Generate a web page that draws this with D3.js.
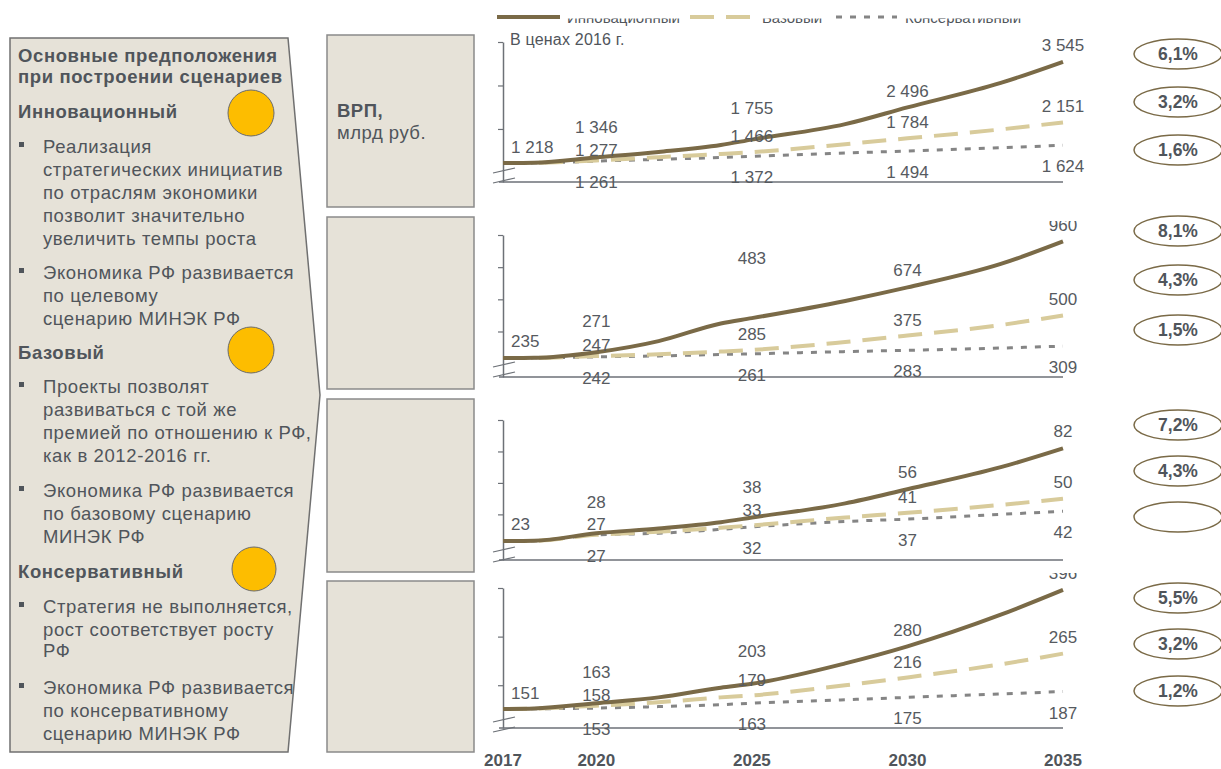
<!DOCTYPE html>
<html>
<head>
<meta charset="utf-8">
<script src="https://cdn.jsdelivr.net/npm/d3@7"></script>
<style>
  body { margin: 0; background: #fff; }
  svg { display: block; font-family: "Liberation Sans", Arial, sans-serif; }
</style>
</head>
<body>
<svg id="chart" width="1221" height="769"></svg>
<script>
// ---- data ----
const lineYears = [2017, 2018, 2020, 2022, 2024, 2025, 2028, 2030, 2033, 2035];
const labelYears = [2017, 2020, 2025, 2030, 2035];
const seriesNames = ["Инновационный", "Базовый", "Консервативный"];

// GRP, bn rub (2016 prices)
const p1Innov = [1218, 1225, 1346, 1470, 1630, 1755, 2110, 2496, 3060, 3545];
const p1Base  = [1218, 1220, 1277, 1350, 1425, 1466, 1650, 1784, 1990, 2151];
const p1Cons  = [1218, 1220, 1261, 1300, 1345, 1372, 1445, 1494, 1570, 1624];
const p1Growth = ["6,1%", "3,2%", "1,6%"];
const p1Ticks = [2000, 3000, 4000];

const p2Innov = [235, 236, 271, 340, 450, 483, 590, 674, 820, 960];
const p2Base  = [235, 236, 247, 258, 275, 285, 335, 375, 440, 500];
const p2Cons  = [235, 236, 242, 248, 257, 261, 275, 283, 297, 309];
const p2Growth = ["8,1%", "4,3%", "1,5%"];
const p2Ticks = [400, 600, 800, 1000];

const p3Innov = [23, 23.2, 28, 31, 35, 38, 47, 56, 70, 82];
const p3Base  = [23, 23.2, 27, 29, 31.5, 33, 38, 41, 46, 50];
const p3Cons  = [23, 23.2, 27, 28, 30.5, 32, 35.5, 37, 40, 42];
const p3Growth = ["7,2%", "4,3%", ""];
const p3Ticks = [40, 60, 80, 100];

const p4Innov = [151, 152, 163, 175, 195, 203, 245, 280, 345, 396];
const p4Base  = [151, 152, 158, 165, 175, 179, 200, 216, 243, 265];
const p4Cons  = [151, 151.5, 153, 156, 160, 163, 170, 175, 182, 187];
const p4Growth = ["5,5%", "3,2%", "1,2%"];
const p4Ticks = [200, 300, 400];

// ---- layout ----
const textColor = "#50555b";
const colors = ["#7a6a47", "#d8cb9b", "#858585"];
const dashes = [null, "24,12", "6,8"];
const widths = [4, 4, 3];

const panels = [
  {series: [p1Innov, p1Base, p1Cons], growth: p1Growth, ticks: p1Ticks,
   domain: [780, 4000], range: [182, 42], box: [35, 207], clipTop: 0, breakDy: -8,
   ell: [54, 102, 150], innDy: [-16, -31, -32, -17, -17]},
  {series: [p2Innov, p2Base, p2Cons], growth: p2Growth, ticks: p2Ticks,
   domain: [117, 1000], range: [377, 235], box: [217, 389], clipTop: 221, breakDy: -9,
   ell: [231, 280, 330], innDy: [-17, -31, -60, -18, -17]},
  {series: [p3Innov, p3Base, p3Cons], growth: p3Growth, ticks: p3Ticks,
   domain: [11, 100], range: [560, 420], box: [399, 572], clipTop: 392, breakDy: -7,
   ell: [425, 471, 517], innDy: [-17, -31, -31, -17, -17]},
  {series: [p4Innov, p4Base, p4Cons], growth: p4Growth, ticks: p4Ticks,
   domain: [112, 400], range: [728, 588], box: [581, 752], clipTop: 573, breakDy: -5,
   ell: [598, 644, 691], innDy: [-16, -31, -33, -16, -17]}
];
const baseDy = [-11, -16, -16, -17];
const consDy = 21;

const svg = d3.select("#chart");
const fmt = d3.formatLocale({decimal: ",", thousands: " ", grouping: [3], currency: ["", ""]}).format(",d");

const x = d3.scaleLinear().domain([2017, 2035]).range([503, 1063]);

// ---- left assumptions panel ----
svg.append("polygon")
  .attr("points", [[10, 38], [288, 38], [320, 395], [288, 752], [10, 752]].join(" "))
  .attr("fill", "#e6e2d8").attr("stroke", "#707070").attr("stroke-width", 1.5);

const leftText = [
  {t: "Основные предположения", y: 62, b: true},
  {t: "при построении сценариев", y: 83, b: true},
  {t: "Инновационный", y: 118, b: true},
  {t: "Реализация", y: 153, bullet: true},
  {t: "стратегических инициатив", y: 176},
  {t: "по отраслям экономики", y: 199},
  {t: "позволит значительно", y: 222},
  {t: "увеличить темпы роста", y: 245},
  {t: "Экономика РФ развивается", y: 279, bullet: true},
  {t: "по целевому", y: 302},
  {t: "сценарию МИНЭК РФ", y: 325},
  {t: "Базовый", y: 359, b: true},
  {t: "Проекты позволят", y: 393, bullet: true},
  {t: "развиваться с той же", y: 416},
  {t: "премией по отношению к РФ,", y: 439},
  {t: "как в 2012-2016 гг.", y: 462},
  {t: "Экономика РФ развивается", y: 497, bullet: true},
  {t: "по базовому сценарию", y: 520},
  {t: "МИНЭК  РФ", y: 543},
  {t: "Консервативный", y: 578, b: true},
  {t: "Стратегия не выполняется,", y: 613, bullet: true},
  {t: "рост соответствует росту", y: 636},
  {t: "РФ", y: 657},
  {t: "Экономика РФ развивается", y: 694, bullet: true},
  {t: "по консервативному", y: 717},
  {t: "сценарию МИНЭК РФ", y: 740}
];

const lt = svg.append("g");
lt.selectAll("text").data(leftText).join("text")
  .attr("x", d => d.b ? 18 : 43)
  .attr("y", d => d.y)
  .attr("fill", textColor)
  .attr("font-size", 18.5)
  .attr("letter-spacing", 0.6)
  .attr("font-weight", d => d.b ? "bold" : "normal")
  .text(d => d.t);
lt.selectAll("rect").data(leftText.filter(d => d.bullet)).join("rect")
  .attr("x", 19).attr("y", d => d.y - 11).attr("width", 5).attr("height", 5)
  .attr("fill", textColor);

svg.append("g").selectAll("circle")
  .data([[251, 113, 23], [251, 350, 23], [254, 569, 22]])
  .join("circle")
  .attr("cx", d => d[0]).attr("cy", d => d[1]).attr("r", d => d[2])
  .attr("fill", "#fdbd00").attr("stroke", "#6b6b6b").attr("stroke-width", 1);

// ---- indicator boxes ----
svg.append("g").selectAll("rect").data(panels).join("rect")
  .attr("x", 327).attr("y", d => d.box[0])
  .attr("width", 147).attr("height", d => d.box[1] - d.box[0])
  .attr("fill", "#e6e2d8").attr("stroke", "#8a8a8a").attr("stroke-width", 1.5);

svg.append("text").attr("x", 337).attr("y", 117).attr("letter-spacing", 0.5)
  .attr("font-size", 18.5).attr("font-weight", "bold").attr("fill", textColor).text("ВРП,");
svg.append("text").attr("x", 337).attr("y", 139).attr("letter-spacing", 0.5)
  .attr("font-size", 18.5).attr("fill", textColor).text("млрд руб.");

// ---- legend ----
const legendX = [[497, 560, 567], [690, 756, 762], [836, 897, 905]];
const defs = svg.append("defs");
defs.append("clipPath").attr("id", "legclip")
  .append("rect").attr("x", 0).attr("y", 18.5).attr("width", 1221).attr("height", 20);
const leg = svg.append("g");
seriesNames.forEach((name, i) => {
  leg.append("line")
    .attr("x1", legendX[i][0]).attr("x2", legendX[i][1]).attr("y1", 17).attr("y2", 17)
    .attr("stroke", colors[i]).attr("stroke-width", widths[i])
    .attr("stroke-dasharray", dashes[i]);
  leg.append("text")
    .attr("x", legendX[i][2]).attr("y", 23)
    .attr("clip-path", "url(#legclip)")
    .attr("font-size", 15).attr("fill", textColor).text(name);
});
svg.append("text").attr("x", 510).attr("y", 45)
  .attr("font-size", 16).attr("fill", textColor).attr("letter-spacing", 0.2)
  .text("В ценах 2016 г.");

// ---- line panels ----
panels.forEach((p, pi) => {
  const y = d3.scaleLinear().domain(p.domain).range(p.range);
  defs.append("clipPath").attr("id", "pclip" + pi)
    .append("rect").attr("x", 480).attr("y", p.clipTop)
    .attr("width", 700).attr("height", 769 - p.clipTop);
  const g = svg.append("g").attr("clip-path", `url(#pclip${pi})`);

  // y axis with break
  const ya = g.append("g").attr("transform", `translate(${x(2017)},0)`)
    .call(d3.axisLeft(y).tickValues(p.ticks).tickSize(5).tickSizeOuter(0).tickFormat(""));
  ya.select(".domain").attr("stroke", "#6d7177").attr("stroke-width", 1.5);
  ya.selectAll(".tick line").attr("stroke", "#6d7177").attr("stroke-width", 1.2);

  const by = p.range[0] + p.breakDy;
  [-5, 5].forEach(o => {
    g.append("line")
      .attr("x1", x(2017) - 10).attr("y1", by + o + 4)
      .attr("x2", x(2017) + 12).attr("y2", by + o - 1)
      .attr("stroke", "#6d7177").attr("stroke-width", 1.2);
  });

  // x axis
  g.append("line")
    .attr("x1", x(2017) - 4).attr("x2", x(2035))
    .attr("y1", p.range[0]).attr("y2", p.range[0])
    .attr("stroke", "#6d7177").attr("stroke-width", 1.5);

  // series lines (conservative first so innovation sits on top)
  const line = d3.line().x((d, i) => x(lineYears[i])).y(d => y(d)).curve(d3.curveMonotoneX);
  [2, 1, 0].forEach(si => {
    g.append("path").datum(p.series[si])
      .attr("d", line)
      .attr("fill", "none")
      .attr("stroke", colors[si]).attr("stroke-width", widths[si])
      .attr("stroke-dasharray", dashes[si]);
  });

  // value labels
  const labels = [];
  labelYears.forEach((yr, li) => {
    const idx = lineYears.indexOf(yr);
    if (li === 0) {
      labels.push({x: x(yr) + 8, y: y(p.series[0][idx]) + p.innDy[0], v: p.series[0][idx], a: "start"});
      return;
    }
    labels.push({x: x(yr), y: y(p.series[0][idx]) + p.innDy[li], v: p.series[0][idx], a: "middle"});
    labels.push({x: x(yr), y: y(p.series[1][idx]) + baseDy[li - 1], v: p.series[1][idx], a: "middle"});
    labels.push({x: x(yr), y: y(p.series[2][idx]) + consDy, v: p.series[2][idx], a: "middle"});
  });
  g.append("g").selectAll("text").data(labels).join("text")
    .attr("x", d => d.x).attr("y", d => d.y).attr("dy", "0.36em")
    .attr("text-anchor", d => d.a)
    .attr("font-size", 17).attr("fill", "#565a60")
    .text(d => fmt(d.v));

  // growth rate ellipses
  const eg = svg.append("g");
  p.ell.forEach((ey, i) => {
    eg.append("ellipse").attr("cx", 1178).attr("cy", ey).attr("rx", 44).attr("ry", 15)
      .attr("fill", "#fff").attr("stroke", "#7a6a47").attr("stroke-width", 1.5);
    eg.append("text").attr("x", 1178).attr("y", ey).attr("dy", "0.36em")
      .attr("text-anchor", "middle").attr("font-size", 17.5).attr("font-weight", "bold")
      .attr("fill", textColor).text(p.growth[i]);
  });
});

// year labels
svg.append("g").selectAll("text").data(labelYears).join("text")
  .attr("x", d => x(d)).attr("y", 766)
  .attr("text-anchor", "middle").attr("font-size", 17).attr("font-weight", "bold")
  .attr("fill", textColor).text(d => d);
</script>
</body>
</html>
